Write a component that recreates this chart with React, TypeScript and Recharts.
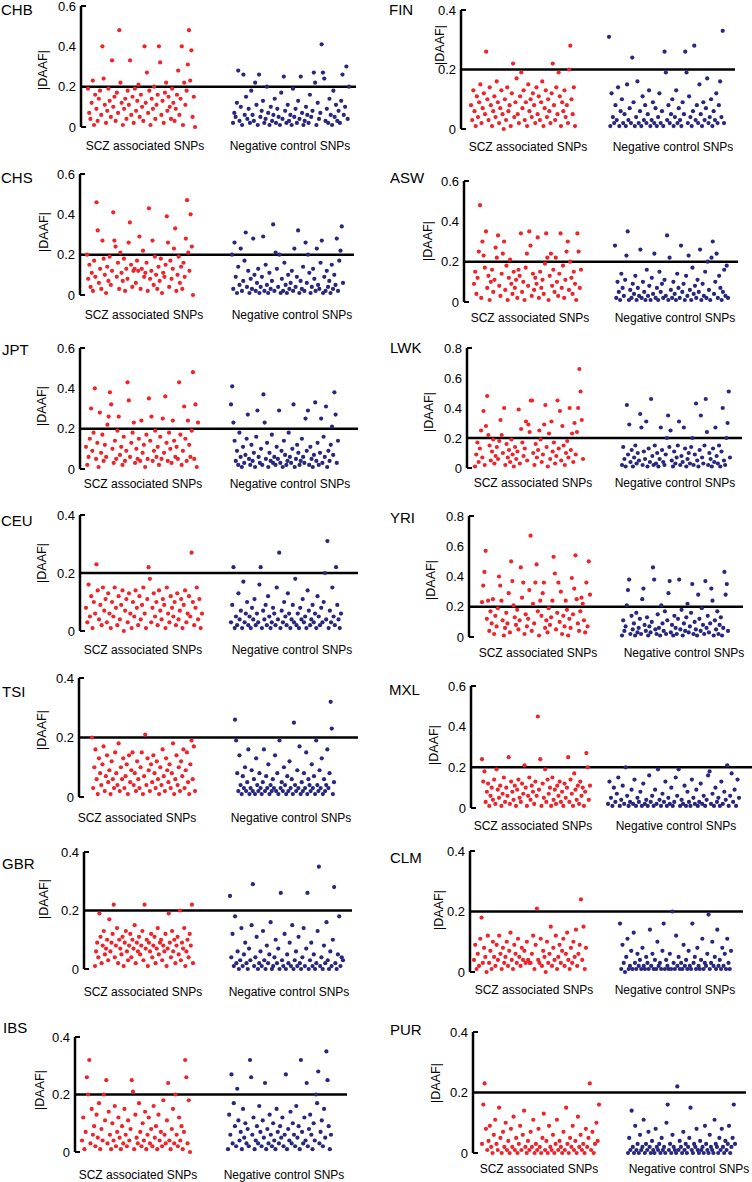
import React from 'react'
import { ScatterChart, Scatter, XAxis, YAxis, ReferenceLine } from 'recharts'

const FONT = '"Liberation Sans", Arial, Helvetica, sans-serif'
const RED = '#f0232b'
const BLUE = '#27277f'

// |DAAF| per SNP, in hundredths, read left to right across each cloud
const chbScz = [19, 7, 4, 12, 23, 1, 16, 9, 3, 14, 18, 6, 40, 24, 11, 2, 8, 19, 13, 5, 33, 10, 15, 3, 17, 7, 48, 22, 12, 1, 9, 14, 4, 18, 11, 33, 6, 15, 2, 19, 8, 13, 21, 5, 16, 10, 3, 40, 12, 27, 7, 18, 1, 14, 9, 20, 4, 11, 16, 40, 32, 6, 13, 2, 17, 22, 8, 15, 10, 4, 19, 12, 3, 9, 16, 28, 6, 14, 40, 1, 22, 11, 18, 31, 48, 23, 38, 5, 15, 0]
const chbNeg = [2, 7, 5, 12, 28, 3, 10, 1, 26, 6, 15, 4, 9, 2, 18, 6, 3, 22, 11, 1, 26, 5, 8, 13, 2, 4, 20, 7, 1, 10, 3, 6, 14, 2, 9, 5, 1, 17, 4, 25, 8, 2, 11, 3, 6, 1, 19, 5, 9, 2, 13, 4, 25, 7, 1, 3, 10, 6, 2, 16, 5, 8, 27, 22, 1, 12, 4, 7, 41, 27, 24, 3, 9, 2, 14, 6, 1, 18, 5, 11, 3, 8, 2, 13, 26, 6, 10, 30, 4, 20]
const chsScz = [20, 8, 15, 4, 11, 2, 17, 9, 46, 32, 6, 13, 3, 27, 18, 10, 1, 14, 7, 19, 5, 12, 41, 27, 24, 9, 16, 3, 21, 11, 7, 18, 2, 13, 8, 26, 36, 15, 4, 12, 13, 6, 17, 12, 29, 3, 13, 22, 9, 11, 16, 2, 43, 8, 12, 27, 5, 19, 10, 3, 14, 7, 18, 1, 11, 9, 15, 39, 26, 4, 17, 8, 13, 23, 33, 2, 10, 19, 6, 14, 3, 16, 9, 28, 47, 21, 12, 40, 24, 0]
const chsNeg = [20, 3, 26, 9, 1, 14, 5, 23, 2, 7, 17, 31, 4, 12, 1, 8, 3, 28, 10, 2, 6, 13, 1, 4, 9, 29, 2, 15, 5, 1, 11, 3, 7, 35, 2, 21, 13, 4, 20, 1, 8, 2, 16, 5, 1, 10, 3, 6, 12, 2, 23, 4, 9, 32, 1, 7, 3, 14, 2, 26, 6, 20, 11, 1, 4, 13, 8, 2, 23, 5, 3, 16, 27, 1, 9, 2, 12, 4, 7, 1, 15, 3, 10, 5, 28, 2, 17, 22, 34, 6]
const jptScz = [11, 2, 6, 15, 30, 9, 18, 40, 5, 13, 1, 28, 8, 17, 4, 12, 6, 22, 26, 38, 32, 10, 3, 14, 5, 19, 26, 7, 11, 2, 16, 4, 9, 43, 34, 6, 13, 18, 23, 3, 10, 5, 15, 4, 24, 8, 12, 1, 17, 5, 35, 14, 26, 4, 9, 19, 6, 11, 2, 16, 5, 25, 8, 36, 13, 4, 18, 10, 3, 24, 14, 6, 11, 5, 43, 17, 2, 9, 31, 15, 4, 24, 12, 6, 19, 48, 5, 32, 1, 23]
const jptNeg = [32, 41, 23, 14, 4, 9, 2, 18, 6, 1, 11, 3, 7, 15, 27, 5, 2, 12, 4, 8, 1, 16, 29, 6, 3, 10, 2, 37, 23, 5, 13, 1, 8, 4, 17, 3, 6, 2, 11, 5, 29, 3, 9, 1, 14, 7, 2, 4, 18, 6, 3, 10, 32, 1, 5, 12, 8, 2, 4, 15, 6, 3, 25, 9, 29, 2, 11, 5, 1, 7, 33, 4, 13, 2, 8, 25, 3, 16, 6, 31, 1, 9, 4, 12, 21, 7, 38, 27, 3, 14]
const ceuScz = [8, 3, 16, 5, 12, 1, 10, 6, 23, 14, 4, 9, 2, 15, 7, 11, 3, 13, 6, 1, 10, 5, 15, 8, 2, 12, 4, 9, 14, 0, 7, 11, 3, 13, 6, 1, 10, 5, 14, 8, 2, 12, 4, 9, 15, 6, 1, 11, 22, 18, 3, 8, 13, 5, 10, 2, 14, 7, 4, 11, 9, 1, 15, 6, 3, 12, 8, 5, 10, 2, 13, 4, 7, 11, 1, 9, 14, 3, 6, 12, 5, 27, 10, 2, 8, 15, 4, 11, 1, 6]
const ceuNeg = [3, 9, 22, 1, 5, 2, 13, 4, 7, 1, 17, 3, 6, 10, 2, 5, 1, 8, 4, 11, 2, 6, 3, 16, 22, 1, 7, 4, 9, 2, 12, 5, 1, 3, 8, 6, 2, 15, 4, 27, 1, 7, 3, 10, 5, 2, 13, 6, 1, 4, 9, 3, 18, 2, 6, 1, 8, 4, 11, 3, 5, 1, 14, 7, 2, 4, 9, 3, 6, 1, 12, 5, 2, 8, 3, 10, 20, 4, 31, 1, 7, 3, 15, 5, 2, 22, 9, 4, 1, 6]
const tsiScz = [20, 3, 10, 16, 6, 1, 13, 8, 4, 11, 17, 2, 7, 14, 5, 9, 1, 12, 6, 3, 15, 8, 4, 18, 2, 10, 6, 13, 3, 7, 11, 1, 14, 5, 9, 15, 4, 8, 2, 12, 6, 3, 10, 15, 1, 7, 21, 4, 13, 9, 2, 11, 5, 14, 8, 3, 12, 6, 1, 10, 4, 16, 7, 2, 13, 9, 5, 11, 3, 8, 18, 1, 6, 14, 4, 10, 2, 12, 7, 16, 3, 9, 15, 5, 1, 11, 19, 6, 17, 2]
const tsiNeg = [26, 19, 8, 2, 14, 4, 1, 7, 3, 10, 2, 5, 16, 1, 3, 9, 2, 6, 1, 13, 4, 2, 8, 3, 1, 5, 16, 2, 7, 3, 11, 1, 4, 2, 6, 3, 14, 2, 8, 1, 19, 3, 5, 2, 10, 4, 1, 7, 2, 12, 3, 6, 1, 25, 4, 2, 9, 3, 17, 1, 5, 2, 8, 3, 15, 1, 6, 4, 2, 11, 3, 7, 1, 19, 4, 2, 9, 3, 13, 1, 6, 2, 4, 16, 3, 8, 32, 23, 1, 5]
const gbrScz = [1, 6, 9, 4, 19, 11, 2, 8, 13, 5, 7, 10, 3, 17, 6, 9, 12, 22, 4, 8, 14, 2, 10, 7, 5, 11, 1, 9, 13, 6, 3, 8, 12, 4, 10, 7, 15, 2, 9, 6, 11, 5, 8, 13, 3, 22, 7, 10, 1, 9, 6, 12, 4, 8, 11, 2, 7, 14, 5, 9, 10, 3, 8, 6, 12, 1, 7, 19, 9, 4, 13, 6, 10, 2, 8, 11, 5, 20, 3, 9, 7, 14, 1, 6, 10, 4, 12, 8, 22, 2]
const gbrNeg = [25, 4, 12, 1, 18, 2, 6, 0, 3, 14, 1, 5, 9, 2, 0, 7, 3, 15, 29, 1, 4, 11, 0, 2, 6, 1, 13, 3, 0, 8, 2, 5, 16, 0, 1, 4, 10, 2, 7, 0, 26, 3, 1, 12, 0, 5, 2, 9, 1, 15, 0, 3, 6, 1, 11, 2, 0, 4, 14, 1, 7, 26, 0, 3, 9, 1, 5, 0, 2, 13, 35, 1, 4, 0, 8, 2, 16, 3, 0, 6, 1, 10, 28, 2, 0, 5, 18, 1, 4, 3]
const ibsScz = [4, 12, 1, 7, 26, 20, 32, 3, 15, 6, 9, 2, 13, 5, 17, 1, 8, 4, 20, 11, 25, 3, 14, 6, 1, 10, 4, 16, 2, 7, 12, 5, 1, 9, 3, 15, 6, 2, 11, 4, 8, 25, 21, 1, 13, 5, 3, 17, 7, 2, 10, 4, 14, 1, 6, 12, 3, 8, 2, 16, 5, 9, 1, 13, 4, 7, 2, 18, 6, 3, 11, 24, 4, 1, 8, 15, 3, 20, 6, 2, 12, 4, 9, 1, 7, 32, 26, 3, 18, 0]
const ibsNeg = [1, 13, 6, 27, 3, 17, 9, 2, 22, 11, 4, 7, 1, 15, 5, 10, 3, 8, 2, 32, 26, 6, 12, 1, 4, 9, 3, 16, 7, 2, 11, 5, 24, 1, 8, 3, 13, 6, 2, 10, 4, 1, 15, 7, 3, 9, 5, 12, 2, 6, 27, 1, 8, 4, 14, 3, 10, 6, 2, 16, 5, 9, 1, 32, 7, 3, 12, 4, 24, 2, 8, 13, 6, 1, 10, 4, 20, 17, 28, 3, 7, 11, 2, 15, 5, 35, 25, 9, 1, 6]
const finScz = [8, 3, 13, 6, 1, 11, 4, 9, 15, 2, 7, 12, 5, 26, 10, 3, 14, 8, 1, 6, 11, 4, 16, 9, 2, 7, 13, 5, 0, 10, 3, 14, 6, 8, 1, 12, 22, 4, 9, 17, 5, 2, 11, 19, 7, 13, 3, 9, 1, 15, 6, 10, 4, 12, 8, 2, 14, 5, 11, 3, 9, 16, 1, 7, 13, 4, 10, 6, 2, 12, 22, 8, 3, 14, 5, 19, 11, 1, 9, 6, 13, 4, 8, 2, 20, 28, 10, 5, 14, 1]
const finNeg = [31, 1, 12, 4, 2, 8, 3, 14, 1, 6, 10, 2, 5, 1, 15, 3, 7, 2, 24, 9, 1, 4, 16, 2, 6, 1, 11, 3, 8, 2, 5, 13, 1, 3, 9, 2, 7, 1, 4, 12, 2, 6, 1, 26, 19, 3, 8, 2, 5, 10, 1, 4, 13, 2, 7, 3, 1, 9, 5, 26, 19, 2, 11, 4, 1, 6, 28, 3, 8, 2, 15, 5, 1, 9, 3, 7, 17, 2, 4, 10, 1, 6, 3, 12, 2, 8, 16, 4, 33, 2]
const aswScz = [9, 15, 4, 12, 25, 48, 2, 30, 23, 17, 35, 7, 13, 1, 10, 16, 5, 11, 27, 22, 33, 8, 3, 14, 24, 30, 6, 18, 1, 12, 21, 9, 4, 15, 7, 11, 2, 16, 13, 34, 5, 10, 1, 17, 24, 8, 35, 28, 3, 14, 6, 12, 9, 32, 2, 15, 7, 11, 4, 19, 34, 22, 1, 13, 24, 8, 16, 5, 22, 10, 3, 14, 34, 7, 18, 2, 11, 25, 30, 6, 20, 12, 4, 15, 9, 1, 34, 25, 7, 16]
const aswNeg = [28, 2, 10, 5, 1, 14, 7, 3, 11, 23, 35, 1, 6, 2, 9, 4, 13, 1, 7, 3, 26, 2, 10, 5, 1, 16, 3, 8, 1, 12, 4, 24, 2, 7, 1, 15, 5, 9, 2, 11, 3, 33, 1, 22, 6, 2, 10, 4, 1, 14, 7, 2, 28, 5, 9, 1, 13, 3, 23, 6, 1, 17, 4, 8, 2, 11, 5, 26, 1, 9, 3, 15, 2, 20, 6, 1, 22, 30, 4, 10, 24, 2, 13, 7, 1, 5, 16, 3, 18, 2]
const lwkScz = [1, 9, 17, 4, 13, 25, 7, 38, 2, 28, 48, 22, 15, 5, 11, 19, 3, 8, 14, 6, 18, 32, 22, 10, 40, 2, 16, 7, 12, 4, 19, 9, 1, 14, 6, 11, 39, 3, 26, 17, 8, 13, 31, 5, 29, 24, 45, 45, 10, 2, 16, 7, 12, 25, 19, 4, 9, 29, 42, 14, 1, 23, 6, 31, 11, 17, 3, 8, 45, 13, 38, 5, 28, 15, 2, 10, 18, 7, 40, 12, 23, 4, 30, 9, 24, 40, 66, 51, 32, 6]
const lwkNeg = [2, 14, 6, 1, 42, 9, 29, 4, 12, 1, 7, 15, 3, 10, 5, 36, 27, 2, 11, 6, 31, 1, 13, 4, 46, 8, 2, 15, 3, 10, 1, 6, 27, 12, 4, 2, 9, 20, 35, 14, 25, 5, 1, 11, 3, 7, 15, 31, 2, 8, 4, 27, 13, 1, 6, 10, 3, 14, 20, 2, 9, 43, 5, 1, 12, 35, 7, 3, 15, 46, 24, 2, 10, 6, 1, 13, 4, 27, 8, 3, 15, 1, 11, 40, 5, 2, 20, 30, 51, 7]
const yriScz = [23, 34, 43, 57, 12, 24, 4, 17, 9, 25, 2, 14, 7, 19, 40, 34, 24, 11, 1, 6, 16, 9, 29, 3, 50, 37, 21, 13, 8, 18, 5, 11, 46, 26, 36, 2, 15, 7, 12, 31, 67, 4, 22, 9, 36, 48, 17, 1, 24, 14, 29, 36, 6, 11, 3, 19, 8, 13, 24, 53, 42, 5, 16, 36, 10, 30, 2, 14, 7, 24, 18, 1, 12, 6, 39, 15, 32, 54, 25, 9, 4, 17, 26, 22, 11, 3, 36, 7, 50, 28]
const yriNeg = [1, 11, 4, 7, 21, 31, 38, 2, 14, 5, 9, 1, 16, 3, 6, 12, 2, 25, 32, 8, 4, 13, 1, 7, 3, 10, 46, 38, 5, 2, 15, 6, 1, 21, 9, 4, 17, 2, 11, 29, 37, 3, 8, 1, 14, 6, 2, 12, 38, 5, 18, 1, 9, 4, 13, 22, 3, 7, 16, 35, 2, 10, 5, 1, 28, 12, 4, 19, 8, 2, 37, 6, 14, 3, 9, 32, 24, 1, 11, 5, 17, 2, 8, 13, 1, 6, 43, 28, 35, 4]
const mxlScz = [24, 13, 18, 3, 8, 12, 1, 6, 10, 4, 14, 2, 19, 9, 5, 11, 1, 7, 15, 3, 10, 6, 25, 2, 13, 8, 4, 11, 1, 9, 14, 5, 3, 12, 7, 21, 10, 1, 6, 15, 4, 11, 8, 2, 13, 6, 45, 9, 24, 1, 12, 5, 19, 3, 14, 7, 10, 1, 15, 4, 9, 2, 11, 6, 13, 3, 8, 1, 12, 5, 10, 25, 3, 14, 7, 1, 17, 9, 4, 11, 2, 13, 6, 10, 1, 8, 27, 20, 4, 11]
const mxlNeg = [2, 13, 5, 1, 10, 3, 7, 15, 1, 4, 11, 2, 20, 6, 1, 3, 9, 2, 14, 1, 5, 3, 8, 1, 12, 2, 4, 1, 16, 3, 6, 1, 9, 2, 19, 4, 1, 7, 3, 13, 1, 5, 2, 10, 1, 3, 15, 6, 19, 1, 4, 2, 11, 1, 8, 3, 1, 14, 5, 2, 9, 1, 3, 12, 2, 6, 1, 4, 16, 18, 2, 7, 1, 10, 3, 5, 1, 13, 2, 8, 4, 21, 1, 6, 17, 3, 9, 1, 14, 5]
const clmScz = [4, 9, 1, 6, 2, 11, 18, 3, 8, 5, 0, 12, 3, 7, 1, 10, 5, 2, 9, 4, 12, 6, 1, 8, 3, 5, 10, 2, 7, 13, 4, 1, 9, 6, 3, 11, 5, 2, 8, 4, 7, 3, 10, 4, 3, 3, 6, 12, 1, 9, 21, 4, 3, 11, 2, 7, 5, 0, 10, 3, 6, 15, 2, 8, 4, 12, 1, 5, 9, 3, 7, 11, 2, 6, 13, 4, 1, 8, 3, 10, 5, 14, 2, 6, 9, 24, 4, 15, 1, 8]
const clmNeg = [16, 1, 9, 3, 0, 5, 11, 1, 2, 7, 1, 13, 3, 1, 6, 2, 4, 1, 8, 2, 1, 5, 3, 1, 14, 2, 6, 1, 4, 1, 10, 2, 3, 1, 7, 16, 1, 4, 2, 1, 6, 1, 20, 3, 1, 12, 2, 5, 1, 3, 1, 9, 2, 4, 1, 7, 2, 1, 16, 3, 5, 1, 8, 2, 1, 4, 11, 1, 3, 2, 6, 19, 1, 3, 10, 2, 5, 1, 14, 2, 4, 1, 8, 2, 6, 1, 11, 3, 1, 7]
const purScz = [3, 16, 23, 8, 1, 4, 9, 2, 0, 6, 11, 3, 1, 15, 5, 0, 7, 2, 10, 1, 4, 0, 8, 2, 12, 1, 5, 0, 3, 9, 1, 6, 14, 2, 0, 4, 1, 7, 2, 11, 0, 3, 1, 8, 2, 0, 5, 13, 1, 4, 0, 9, 2, 1, 6, 0, 3, 11, 1, 4, 2, 0, 7, 1, 15, 3, 0, 5, 2, 9, 1, 4, 0, 12, 2, 6, 1, 3, 0, 8, 2, 5, 23, 1, 7, 0, 3, 10, 4, 16]
const purNeg = [0, 5, 1, 14, 2, 0, 9, 1, 3, 0, 6, 1, 2, 11, 0, 3, 1, 7, 2, 0, 4, 1, 0, 8, 2, 1, 3, 0, 5, 1, 2, 0, 10, 16, 1, 3, 0, 6, 2, 1, 0, 22, 1, 4, 2, 0, 7, 1, 3, 0, 2, 5, 15, 1, 0, 3, 2, 8, 1, 0, 4, 1, 2, 0, 9, 3, 1, 0, 6, 2, 1, 0, 11, 3, 2, 0, 5, 1, 8, 2, 0, 4, 1, 3, 9, 0, 2, 5, 16, 3]

const ticks04 = [0, 0.2, 0.4]
const ticks06 = [0, 0.2, 0.4, 0.6]
const ticks08 = [0, 0.2, 0.4, 0.6, 0.8]
const groupNames = ['SCZ associated SNPs', 'Negative control SNPs']

type Panel = {
  name: string; scz: number[]; neg: number[]; ticks: number[]; col: number
  axisX: number; yTop: number; yZero: number; end: number
  sczX: [number, number]; negX: [number, number]
  labelY: number; labelX: [number, number]
  titleX: number; titleY: number; ylabX: number; ylabY: number
}

const panels: Panel[] = [
  { name: 'CHB', scz: chbScz, neg: chbNeg, ticks: ticks06, col: 0, axisX: 81, yTop: 6, yZero: 127, end: 356, sczX: [88, 195], negX: [233, 349], labelY: 146, labelX: [145, 290], titleX: 1, titleY: 10, ylabX: 43, ylabY: 70 },
  { name: 'CHS', scz: chsScz, neg: chsNeg, ticks: ticks06, col: 0, axisX: 80, yTop: 174, yZero: 295, end: 354, sczX: [87, 193], negX: [232, 343], labelY: 315, labelX: [144, 292], titleX: 1, titleY: 178, ylabX: 44, ylabY: 232 },
  { name: 'JPT', scz: jptScz, neg: jptNeg, ticks: ticks06, col: 0, axisX: 80, yTop: 348, yZero: 469, end: 358, sczX: [86, 198], negX: [231, 338], labelY: 484, labelX: [143, 290], titleX: 2, titleY: 350, ylabX: 42, ylabY: 406 },
  { name: 'CEU', scz: ceuScz, neg: ceuNeg, ticks: ticks04, col: 0, axisX: 80, yTop: 515, yZero: 631, end: 358, sczX: [86, 202], negX: [231, 341], labelY: 650, labelX: [143, 292], titleX: 1, titleY: 521, ylabX: 42, ylabY: 563 },
  { name: 'TSI', scz: tsiScz, neg: tsiNeg, ticks: ticks04, col: 0, axisX: 79, yTop: 678, yZero: 797, end: 358, sczX: [92, 195], negX: [235, 334], labelY: 818, labelX: [137, 291], titleX: 2, titleY: 692, ylabX: 42, ylabY: 730 },
  { name: 'GBR', scz: gbrScz, neg: gbrNeg, ticks: ticks04, col: 0, axisX: 84, yTop: 852, yZero: 969, end: 352, sczX: [95, 193], negX: [230, 343], labelY: 992, labelX: [143, 289], titleX: 2, titleY: 864, ylabX: 44, ylabY: 899 },
  { name: 'IBS', scz: ibsScz, neg: ibsNeg, ticks: ticks04, col: 0, axisX: 75, yTop: 1037, yZero: 1152, end: 347, sczX: [82, 190], negX: [228, 331], labelY: 1175, labelX: [138, 284], titleX: 3, titleY: 1028, ylabX: 40, ylabY: 1090 },
  { name: 'FIN', scz: finScz, neg: finNeg, ticks: ticks04, col: 1, axisX: 461, yTop: 10, yZero: 129, end: 735, sczX: [471, 575], negX: [609, 724], labelY: 147, labelX: [528, 673], titleX: 389, titleY: 10, ylabX: 440, ylabY: 45 },
  { name: 'ASW', scz: aswScz, neg: aswNeg, ticks: ticks06, col: 1, axisX: 464, yTop: 181, yZero: 302, end: 738, sczX: [474, 581], negX: [615, 728], labelY: 318, labelX: [530, 675], titleX: 390, titleY: 178, ylabX: 428, ylabY: 241 },
  { name: 'LWK', scz: lwkScz, neg: lwkNeg, ticks: ticks08, col: 1, axisX: 467, yTop: 348, yZero: 468, end: 742, sczX: [475, 583], negX: [622, 730], labelY: 483, labelX: [533, 675], titleX: 390, titleY: 348, ylabX: 429, ylabY: 412 },
  { name: 'YRI', scz: yriScz, neg: yriNeg, ticks: ticks08, col: 1, axisX: 469, yTop: 516, yZero: 637, end: 743, sczX: [482, 590], negX: [622, 728], labelY: 653, labelX: [538, 684], titleX: 390, titleY: 518, ylabX: 431, ylabY: 580 },
  { name: 'MXL', scz: mxlScz, neg: mxlNeg, ticks: ticks06, col: 1, axisX: 471, yTop: 686, yZero: 808, end: 752, sczX: [482, 590], negX: [608, 739], labelY: 826, labelX: [533, 676], titleX: 389, titleY: 690, ylabX: 434, ylabY: 745 },
  { name: 'CLM', scz: clmScz, neg: clmNeg, ticks: ticks04, col: 1, axisX: 470, yTop: 851, yZero: 972, end: 743, sczX: [474, 586], negX: [620, 731], labelY: 990, labelX: [534, 675], titleX: 390, titleY: 858, ylabX: 439, ylabY: 910 },
  { name: 'PUR', scz: purScz, neg: purNeg, ticks: ticks04, col: 1, axisX: 473, yTop: 1032, yZero: 1153, end: 746, sczX: [482, 599], negX: [628, 735], labelY: 1169, labelX: [539, 689], titleX: 390, titleY: 1030, ylabX: 436, ylabY: 1083 },
]

const YW = 45
const MT = 6
const XH = 34

function Dot(props: any) {
  const { cx, cy, fill } = props
  if (cx == null || cy == null) return null
  return <circle cx={cx} cy={cy} r={2.1} fill={fill} />
}

function DaafPanel({ p }: { p: Panel }) {
  const left = p.axisX - YW
  const width = (p.col === 0 ? 376 : 752) - left
  const plotW = p.end - p.axisX
  const height = MT + (p.yZero - p.yTop) + XH
  const yMax = p.ticks[p.ticks.length - 1]
  const toPoints = (vals: number[], span: [number, number]) =>
    vals.map((v, i) => ({ x: span[0] - p.axisX + ((span[1] - span[0]) * i) / (vals.length - 1), y: v / 100 }))
  const sczPts = toPoints(p.scz, p.sczX)
  const negPts = toPoints(p.neg, p.negX)
  const labelTicks = p.labelX.map((lx) => lx - p.axisX)
  const labelDy = p.labelY - p.yZero

  return (
    <>
      <div style={{ position: 'absolute', left: p.titleX, top: p.titleY, transform: 'translateY(-50%)', fontSize: 15, lineHeight: '18px' }}>
        {p.name}
      </div>
      <div
        style={{
          position: 'absolute', left: p.ylabX, top: p.ylabY, transform: 'translate(-50%, -50%) rotate(-90deg)',
          fontSize: 12.5, lineHeight: '14px', whiteSpace: 'nowrap',
        }}
      >
        |DAAF|
      </div>
      <div style={{ position: 'absolute', left, top: p.yTop - MT }}>
        <ScatterChart width={width} height={height} margin={{ top: MT, right: width - YW - plotW, bottom: 0, left: 0 }}>
          <XAxis
            type="number" dataKey="x" domain={[0, plotW]} ticks={labelTicks} interval={0}
            axisLine={false} tickLine={false} tickSize={0} tickMargin={0} height={XH}
            tick={(t: any) => (
              <text x={t.x} y={t.y + labelDy} textAnchor="middle" dominantBaseline="central" fontSize={12} fontFamily={FONT} fill="#000">
                {groupNames[t.index]}
              </text>
            )}
          />
          <YAxis
            type="number" dataKey="y" domain={[0, yMax]} ticks={p.ticks} interval={0} width={YW}
            axisLine={{ stroke: '#000', strokeWidth: 2.5 }} tickLine={false} tickSize={0} tickMargin={0}
            tick={(t: any) => {
              const v = t.payload.value
              const edge = v === 0 || v === yMax
              return (
                <g>
                  <text x={t.x - 5} y={t.y} textAnchor="end" dominantBaseline="central" fontSize={13} fontFamily={FONT} fill="#000">
                    {String(v)}
                  </text>
                  {edge && <line x1={t.x} x2={t.x + 5} y1={t.y} y2={t.y} stroke="#000" strokeWidth={2} />}
                </g>
              )
            }}
          />
          <ReferenceLine y={0.2} stroke="#000" strokeWidth={2.5} />
          <Scatter data={sczPts} fill={RED} shape={<Dot />} isAnimationActive={false} />
          <Scatter data={negPts} fill={BLUE} shape={<Dot />} isAnimationActive={false} />
        </ScatterChart>
      </div>
    </>
  )
}

export default function App() {
  return (
    <div style={{ position: 'absolute', left: 0, top: 0, width: 752, height: 1182, background: '#fff', fontFamily: FONT, color: '#000', overflow: 'hidden' }}>
      {panels.map((p) => (
        <DaafPanel key={p.name} p={p} />
      ))}
    </div>
  )
}
